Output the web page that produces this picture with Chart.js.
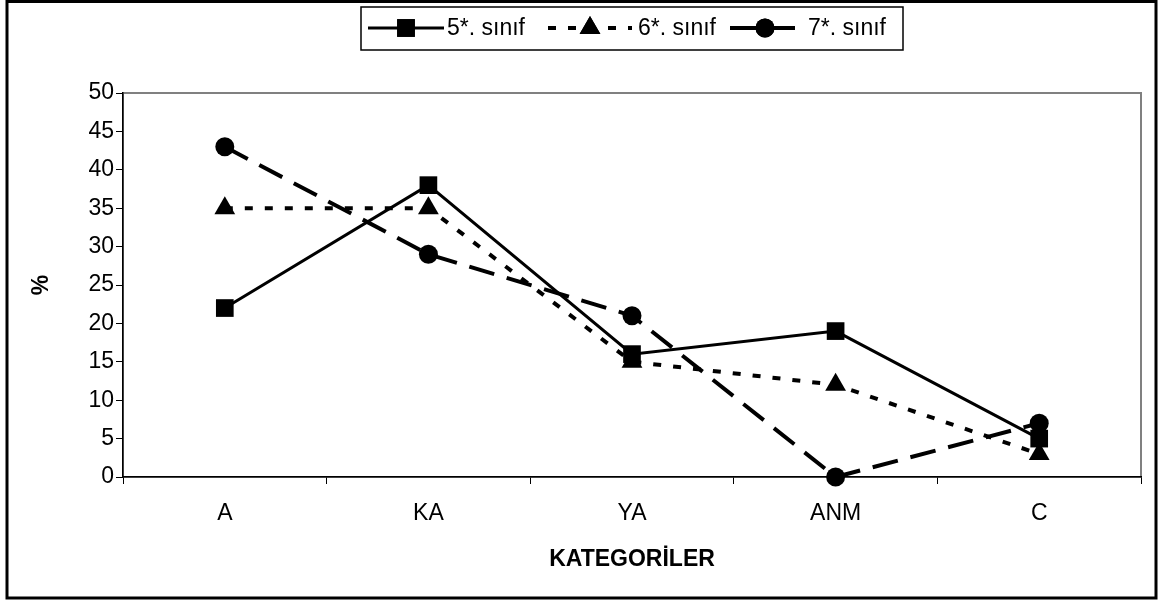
<!DOCTYPE html>
<html lang="tr">
<head>
    <meta charset="UTF-8">
    <title>Kategoriler</title>
    <script src="https://cdn.jsdelivr.net/npm/chart.js@4.4.1/dist/chart.umd.min.js"></script>
    <style>
        html, body { margin: 0; padding: 0; background: #fff; }
        .chart { width: 1158px; height: 601px; }
    </style>
</head>
<body>
    <div class="chart">
        <canvas id="grafik" width="1158" height="601"></canvas>
    </div>

<script>
    // data
    var categories = ['A', 'KA', 'YA', 'ANM', 'C'];
    var sinif5 = [22, 38, 16, 19, 5];
    var sinif6 = [35, 35, 15, 12, 3];
    var sinif7 = [43, 29, 21, 0, 7];
    var seriesNames = ['5*. sınıf', '6*. sınıf', '7*. sınıf'];
    var yTicks = [0, 5, 10, 15, 20, 25, 30, 35, 40, 45, 50];

    var FONT = '"Liberation Sans", Arial, sans-serif';

    // outer frame, grey plot border and the boxed legend
    var frame = {
        id: 'frame',
        beforeDraw: function(chart) {
            var ctx = chart.ctx;
            var a = chart.chartArea;
            ctx.save();
            ctx.fillStyle = '#fff';
            ctx.fillRect(0, 0, chart.width, chart.height);
            ctx.strokeStyle = '#808080';
            ctx.lineWidth = 2;
            ctx.strokeRect(a.left, a.top, a.right - a.left, a.bottom - a.top);
            ctx.restore();
        },
        afterDraw: function(chart) {
            var ctx = chart.ctx;
            ctx.save();
            ctx.strokeStyle = '#000';
            ctx.lineWidth = 3;
            ctx.strokeRect(7, 1.5, 1149, 596.5);

            // legend box
            ctx.lineWidth = 1.5;
            ctx.strokeRect(361, 7, 542, 43);

            var items = [
                { x1: 368, x2: 444, tx: 447 },
                { x1: 548, x2: 632, tx: 638 },
                { x1: 730, x2: 800, tx: 808 }
            ];
            var ly = 28;
            chart.data.datasets.forEach(function(ds, i) {
                var it = items[i];
                ctx.strokeStyle = '#000';
                ctx.lineWidth = ds.borderWidth;
                ctx.setLineDash(ds.borderDash || []);
                ctx.beginPath();
                ctx.moveTo(it.x1, ly);
                ctx.lineTo(it.x2, ly);
                ctx.stroke();
                ctx.setLineDash([]);
                Chart.helpers.drawPoint(ctx, {
                    pointStyle: ds.pointStyle,
                    radius: ds.pointRadius,
                    borderWidth: 0,
                    rotation: 0
                }, (it.x1 + it.x2) / 2, ly);
                ctx.fillStyle = '#000';
                ctx.fill();
                ctx.font = '23px ' + FONT;
                ctx.textBaseline = 'middle';
                ctx.textAlign = 'left';
                ctx.fillText(ds.label, it.tx, ly + 1);
            });
            ctx.restore();
        }
    };

    var tickFont = { family: FONT, size: 23 };

    new Chart(document.getElementById('grafik'), {
        type: 'line',
        data: {
            labels: categories,
            datasets: [
                {
                    label: seriesNames[0], data: sinif5,
                    borderColor: '#000', backgroundColor: '#000', borderWidth: 3,
                    pointStyle: 'rect', pointRadius: 12.5, pointBorderWidth: 0,
                    tension: 0, clip: false
                },
                {
                    label: seriesNames[1], data: sinif6,
                    borderColor: '#000', backgroundColor: '#000', borderWidth: 4,
                    borderDash: [8, 12],
                    pointStyle: 'triangle', pointRadius: 12, pointBorderWidth: 0,
                    tension: 0, clip: false
                },
                {
                    label: seriesNames[2], data: sinif7,
                    borderColor: '#000', backgroundColor: '#000', borderWidth: 4,
                    borderDash: [26, 13],
                    pointStyle: 'circle', pointRadius: 9.5, pointBorderWidth: 0,
                    tension: 0, clip: false
                }
            ]
        },
        options: {
            responsive: false,
            animation: false,
            layout: { padding: { left: 10, right: 17, top: 93, bottom: 20 } },
            plugins: {
                legend: { display: false },
                tooltip: { enabled: false }
            },
            scales: {
                x: {
                    offset: true,
                    grid: { display: true, offset: true, drawOnChartArea: false, drawTicks: true, tickLength: 7, color: '#000', lineWidth: 1 },
                    border: { color: '#000', width: 1.5 },
                    ticks: { font: tickFont, color: '#000', padding: 16, maxRotation: 0 },
                    title: {
                        display: true, text: 'KATEGORİLER', color: '#000',
                        font: { family: FONT, size: 23, weight: 'bold' },
                        padding: { top: 0, bottom: 8 }
                    },
                    afterFit: function(s) { s.height = 104; }
                },
                y: {
                    min: 0, max: 50,
                    afterBuildTicks: function(s) {
                        s.ticks = yTicks.map(function(v) { return { value: v }; });
                    },
                    grid: { display: true, drawOnChartArea: false, drawTicks: true, tickLength: 7, color: '#000', lineWidth: 1 },
                    border: { color: '#000', width: 1.5 },
                    ticks: { font: tickFont, color: '#000', padding: 2 },
                    title: {
                        display: true, text: '%', color: '#000',
                        font: { family: FONT, size: 23, weight: 'bold' },
                        padding: { top: 18, bottom: 0 }
                    },
                    afterFit: function(s) { s.width = 113; }
                }
            }
        },
        plugins: [frame]
    });
</script>
</body>
</html>
